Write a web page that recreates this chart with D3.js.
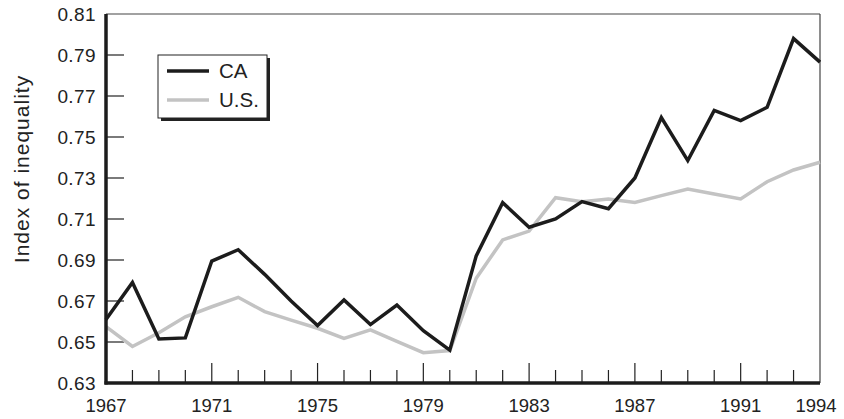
<!DOCTYPE html>
<html>
<head>
<meta charset="utf-8">
<script src="https://cdn.jsdelivr.net/npm/d3@7"></script>
<style>
  body { margin: 0; background: #fff; }
  text { font-family: "Liberation Sans", Arial, sans-serif; fill: #222; }
</style>
</head>
<body>
<div id="chart"></div>
<script>
// data
const years = d3.range(1967, 1995);
const caValues = [0.661, 0.679, 0.6515, 0.652, 0.6895, 0.695, 0.683, 0.670, 0.658, 0.6705,
    0.6585, 0.668, 0.6555, 0.646, 0.692, 0.718, 0.706, 0.710, 0.7185, 0.715,
    0.730, 0.7595, 0.7385, 0.763, 0.758, 0.7645, 0.798, 0.7865];
const usValues = [0.6575, 0.6478, 0.6545, 0.6623, 0.6672, 0.6718, 0.6648, 0.6607, 0.6567, 0.6518,
    0.6559, 0.6503, 0.6448, 0.6458, 0.6811, 0.6998, 0.7041, 0.7204, 0.7184, 0.7198,
    0.7181, 0.7214, 0.7246, 0.7222, 0.7198, 0.7282, 0.7339, 0.7377];
const yTicks = [0.63, 0.65, 0.67, 0.69, 0.71, 0.73, 0.75, 0.77, 0.79, 0.81];
const xLabels = [1967, 1971, 1975, 1979, 1983, 1987, 1991, 1994];
const majorTicks = [1971, 1975, 1979, 1983, 1987, 1991];
const seriesNames = ["CA", "U.S."];
const seriesColors = ["#1c1c1c", "#c3c3c3"];

const width = 844, height = 419;
const margin = {top: 14, right: 24, bottom: 36, left: 106};

const svg = d3.select("#chart").append("svg")
    .attr("width", width)
    .attr("height", height);

const x = d3.scaleLinear()
    .domain([1967, 1994])
    .range([margin.left, width - margin.right]);
const y = d3.scaleLinear()
    .domain([0.63, 0.81])
    .range([height - margin.bottom, margin.top]);

// frame: thin top and right
svg.append("line")
    .attr("x1", x(1967)).attr("x2", x(1994))
    .attr("y1", y(0.81)).attr("y2", y(0.81))
    .attr("stroke", "#444").attr("stroke-width", 1.2);
svg.append("line")
    .attr("x1", x(1994)).attr("x2", x(1994))
    .attr("y1", y(0.81)).attr("y2", y(0.63))
    .attr("stroke", "#444").attr("stroke-width", 1.2);

// y ticks (inward)
svg.selectAll(".ytick").data(yTicks.filter(d => d > 0.63 && d < 0.81))
    .enter().append("line")
    .attr("class", "ytick")
    .attr("x1", x(1967)).attr("x2", x(1967) + 18)
    .attr("y1", d => y(d)).attr("y2", d => y(d))
    .attr("stroke", "#222").attr("stroke-width", 1.2);

svg.selectAll(".ylabel").data(yTicks)
    .enter().append("text")
    .attr("class", "ylabel")
    .attr("x", x(1967) - 10)
    .attr("y", d => y(d))
    .attr("dy", "0.36em")
    .attr("text-anchor", "end")
    .attr("font-size", 19)
    .attr("letter-spacing", 0.4)
    .text(d => d3.format(".2f")(d));

// x ticks (inward, every year; longer every 4 years)
svg.selectAll(".xtick").data(years.filter(d => d > 1967 && d < 1994))
    .enter().append("line")
    .attr("class", "xtick")
    .attr("x1", d => x(d)).attr("x2", d => x(d))
    .attr("y1", y(0.63))
    .attr("y2", d => y(0.63) - (majorTicks.includes(d) ? 20 : 13))
    .attr("stroke", "#222").attr("stroke-width", 1.2);

svg.selectAll(".xlabel").data(xLabels)
    .enter().append("text")
    .attr("class", "xlabel")
    .attr("x", d => d === 1994 ? x(d) - 4 : x(d))
    .attr("y", height - 7)
    .attr("text-anchor", "middle")
    .attr("font-size", 18.5)
    .text(d => d);

// y axis title
svg.append("text")
    .attr("transform", `translate(29, 169) rotate(-90)`)
    .attr("text-anchor", "middle")
    .attr("font-size", 21)
    .attr("letter-spacing", 1)
    .text("Index of inequality");

// lines
const line = d3.line()
    .x((d, i) => x(years[i]))
    .y(d => y(d));

[usValues, caValues].forEach(function (vals, k) {
    svg.append("path")
        .datum(vals)
        .attr("fill", "none")
        .attr("stroke", k === 0 ? seriesColors[1] : seriesColors[0])
        .attr("stroke-width", 3.5)
        .attr("stroke-linejoin", "miter")
        .attr("d", line);
});

// thick left and bottom axes
svg.append("line")
    .attr("x1", x(1967)).attr("x2", x(1967))
    .attr("y1", y(0.81)).attr("y2", y(0.63) + 1.5)
    .attr("stroke", "#1c1c1c").attr("stroke-width", 3.5);
svg.append("line")
    .attr("x1", x(1967) - 1.5).attr("x2", x(1994))
    .attr("y1", y(0.63)).attr("y2", y(0.63))
    .attr("stroke", "#1c1c1c").attr("stroke-width", 3.5);

// legend with drop shadow
const legend = svg.append("g").attr("transform", "translate(158, 55)");
legend.append("rect")
    .attr("x", 3).attr("y", 3)
    .attr("width", 109).attr("height", 63)
    .attr("fill", "#222");
legend.append("rect")
    .attr("x", 0).attr("y", 0)
    .attr("width", 109).attr("height", 63)
    .attr("fill", "#fff").attr("stroke", "#222").attr("stroke-width", 1);

seriesNames.forEach(function (name, i) {
    legend.append("line")
        .attr("x1", 9).attr("x2", 51)
        .attr("y1", 16 + i * 29).attr("y2", 16 + i * 29)
        .attr("stroke", seriesColors[i]).attr("stroke-width", 3.5);
    legend.append("text")
        .attr("x", 61)
        .attr("y", 16 + i * 29)
        .attr("dy", "0.36em")
        .attr("font-size", 20.5)
        .text(name);
});
</script>
</body>
</html>
